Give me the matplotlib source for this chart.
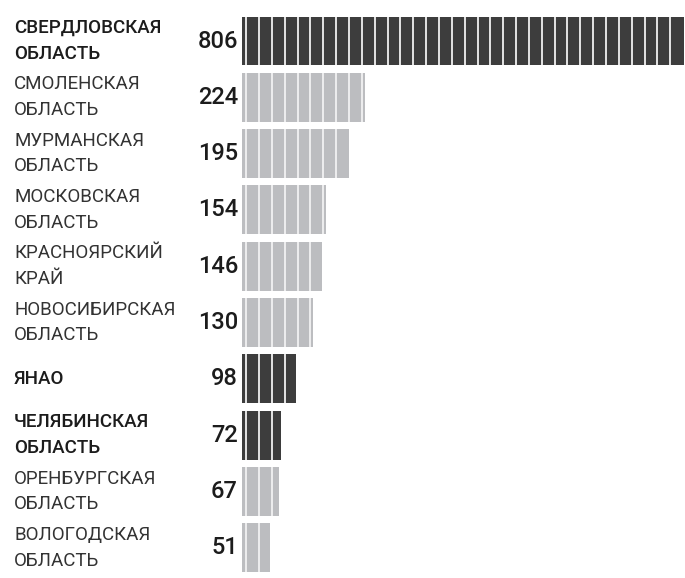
import matplotlib
matplotlib.use("Agg")
import matplotlib.pyplot as plt
import matplotlib.transforms as mtransforms

regions = ["СВЕРДЛОВСКАЯ\nОБЛАСТЬ", "СМОЛЕНСКАЯ\nОБЛАСТЬ", "МУРМАНСКАЯ\nОБЛАСТЬ",
           "МОСКОВСКАЯ\nОБЛАСТЬ", "КРАСНОЯРСКИЙ\nКРАЙ", "НОВОСИБИРСКАЯ\nОБЛАСТЬ",
           "ЯНАО", "ЧЕЛЯБИНСКАЯ\nОБЛАСТЬ", "ОРЕНБУРГСКАЯ\nОБЛАСТЬ", "ВОЛОГОДСКАЯ\nОБЛАСТЬ"]
values = [806, 224, 195, 154, 146, 130, 98, 72, 67, 51]
highlight = [True, False, False, False, False, False, True, True, False, False]

dark = "#3d3d3d"
light = "#bcbdc0"
text_col = "#1c1c1c"

W, H = 685, 578
fig = plt.figure(figsize=(W / 100, H / 100), dpi=100)
ax = fig.add_axes([242 / W, 0, 443 / W, 1])
ax.set_xlim(0, 443 / 0.548)
pitch = 56.3
ax.set_ylim((H - 41) / pitch, -41 / pitch)
ax.axis("off")

bar_h = 0.87
step = 23.45  # stripe spacing in data units
ys = list(range(len(values)))
ax.barh(ys, values, height=bar_h, color=[dark if h else light for h in highlight],
        edgecolor="none")

# thin white dividers inside bars
for y, v, h in zip(ys, values, highlight):
    x = 7.7
    while x < v - 2:
        ax.vlines(x, y - bar_h / 2, y + bar_h / 2, color="#f2f2f2", lw=1.3)
        x += step

trans = mtransforms.blended_transform_factory(fig.transFigure, ax.transData)
for y, name, v, h in zip(ys, regions, values, highlight):
    fig.text(14 / W, y, name, transform=trans, ha="left", va="center",
             fontsize=13.5, family="Roboto", color=text_col if h else "#333333",
             fontweight="medium" if h else "normal", linespacing=1.55)
    ax.annotate(str(v), (0, y), xytext=(-4, 0), textcoords="offset pixels",
                ha="right", va="center", fontsize=17, family="Roboto",
                color=text_col, fontweight="medium")

fig.savefig("out.png", dpi=100, facecolor="white")
